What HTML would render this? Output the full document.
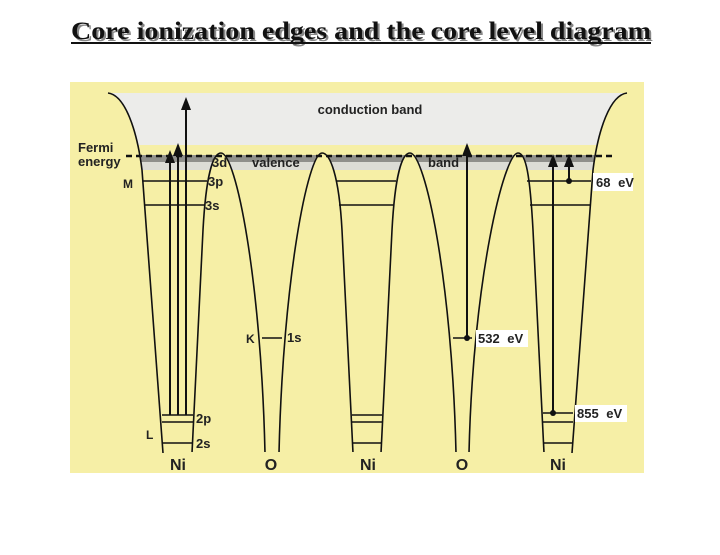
<!DOCTYPE html>
<html><head><meta charset="utf-8"><style>
body{margin:0;background:#fff;}
svg{display:block;}
text{font-family:"Liberation Sans",sans-serif;font-weight:bold;fill:#222;}
</style></head><body>
<svg width="720" height="555" viewBox="0 0 720 555" xmlns="http://www.w3.org/2000/svg">
<text x="361" y="39" text-anchor="middle" style="font-family:'Liberation Serif',serif;font-size:25px;fill:#888" textLength="580" lengthAdjust="spacingAndGlyphs" dx="2" dy="2">Core ionization edges and the core level diagram</text>
<text x="361" y="39" text-anchor="middle" style="font-family:'Liberation Serif',serif;font-size:25px;fill:#111" textLength="580" lengthAdjust="spacingAndGlyphs">Core ionization edges and the core level diagram</text>
<rect x="71" y="42" width="580" height="2" fill="#111"/>

<rect x="70" y="82" width="574" height="391" fill="#f6efa6"/>
<rect x="108" y="93" width="519" height="52" fill="#ececea"/>
<rect x="135" y="155" width="480" height="15" fill="#dcdcd6"/>
<rect x="135" y="155" width="480" height="7" fill="#8f8f8b"/>
<path d="M70,82 L108,82 L108,93 C125,95 137,130 142,170 L163,473 L70,473 Z" fill="#f6efa6"/>
<path d="M644,82 L627,82 L627,93 C610,95 598,130 593,170 L572,473 L644,473 Z" fill="#f6efa6"/>
<path d="M108,93 C125,95 137,130 142,170 L163,453" fill="none" stroke="#111" stroke-width="1.6"/>
<path d="M627,93 C610,95 598,130 593,170 L572,453" fill="none" stroke="#111" stroke-width="1.6"/>
<g fill="#f6efa6" stroke="#111" stroke-width="1.6">
<path d="M192,453 L203,230 C206,175 213,153 221,153 C236,153 261,280 265,453"/>
<path d="M279,453 C283,280 308,153 322,153 C330,153 339,175 342,230 L353,453"/>
<path d="M381,453 L392,230 C395,175 402,153 410,153 C425,153 452,280 456,453"/>
<path d="M469,453 C473,280 504,153 518,153 C526,153 530,175 533,230 L544,453"/>
</g>
<g fill="#f6efa6"><rect x="190" y="452" width="80" height="5"/><rect x="277" y="452" width="80" height="5"/><rect x="379" y="452" width="80" height="5"/><rect x="467" y="452" width="80" height="5"/></g>
<line x1="126" y1="156" x2="614" y2="156" stroke="#111" stroke-width="2.5" stroke-dasharray="6,4"/>
<g stroke="#111" stroke-width="1.6">
<line x1="143" y1="181" x2="207" y2="181"/><line x1="145" y1="205" x2="205" y2="205"/>
<line x1="162" y1="415" x2="193" y2="415"/><line x1="162" y1="422" x2="193" y2="422"/><line x1="163" y1="443" x2="192" y2="443"/>
<line x1="336" y1="181" x2="396" y2="181"/><line x1="339" y1="205" x2="394" y2="205"/>
<line x1="352" y1="415" x2="382" y2="415"/><line x1="352" y1="422" x2="382" y2="422"/><line x1="353" y1="443" x2="381" y2="443"/>
<line x1="527" y1="181" x2="591" y2="181"/><line x1="530" y1="205" x2="590" y2="205"/>
<line x1="543" y1="413" x2="573" y2="413"/><line x1="543" y1="422" x2="573" y2="422"/><line x1="544" y1="443" x2="572" y2="443"/>
<line x1="262" y1="338" x2="282" y2="338"/><line x1="453" y1="338" x2="472" y2="338"/>
</g>
<g stroke="#111" stroke-width="2">
<line x1="170" y1="415" x2="170" y2="160"/><line x1="178" y1="415" x2="178" y2="152"/><line x1="186" y1="415" x2="186" y2="110"/>
<line x1="467" y1="338" x2="467" y2="150"/>
<line x1="553" y1="413" x2="553" y2="162"/><line x1="569" y1="181" x2="569" y2="162"/>
</g>
<g fill="#111">
<polygon points="170,150 165,163 175,163"/><polygon points="178,143 173,156 183,156"/><polygon points="186,97 181,110 191,110"/>
<polygon points="467,143 462,156 472,156"/>
<polygon points="553,154 548,167 558,167"/><polygon points="569,154 564,167 574,167"/>
<circle cx="467" cy="338" r="3"/><circle cx="553" cy="413" r="3"/><circle cx="569" cy="181" r="3"/>
</g>
<rect x="593" y="173" width="40" height="18" fill="#fff"/>
<rect x="476" y="330" width="52" height="17" fill="#fff"/>
<rect x="575" y="405" width="52" height="17" fill="#fff"/>
<g style="font-size:13px">
<text x="596" y="187" style="word-spacing:4px">68 eV</text>
<text x="478" y="343" style="word-spacing:4px">532 eV</text>
<text x="577" y="418" style="word-spacing:4px">855 eV</text>
<text x="370" y="114" text-anchor="middle">conduction band</text>
<text x="78" y="152">Fermi</text>
<text x="78" y="166">energy</text>
<text x="123" y="188" style="font-size:12px">M</text>
<text x="212" y="167">3d</text>
<text x="208" y="186">3p</text>
<text x="205" y="210">3s</text>
<text x="252" y="167">valence</text>
<text x="428" y="167">band</text>
<text x="246" y="343" style="font-size:12px">K</text>
<text x="287" y="342">1s</text>
<text x="146" y="439" style="font-size:12px">L</text>
<text x="196" y="423">2p</text>
<text x="196" y="448">2s</text>
<text x="178" y="470" text-anchor="middle" style="font-size:16px">Ni</text>
<text x="271" y="470" text-anchor="middle" style="font-size:16px">O</text>
<text x="368" y="470" text-anchor="middle" style="font-size:16px">Ni</text>
<text x="462" y="470" text-anchor="middle" style="font-size:16px">O</text>
<text x="558" y="470" text-anchor="middle" style="font-size:16px">Ni</text>
</g>
</svg>
</body></html>
